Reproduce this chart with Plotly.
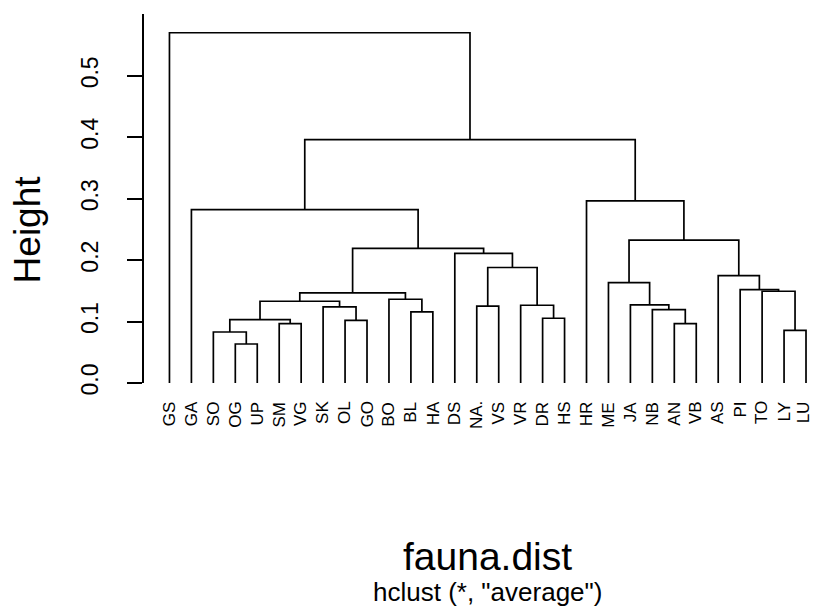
import plotly.graph_objects as go

# Leaf labels in dendrogram order
labels = ["GS", "GA", "SO", "OG", "UP", "SM", "VG", "SK", "OL", "GO", "BO", "BL", "HA",
          "DS", "NA.", "VS", "VR", "DR", "HS", "HR", "ME", "JA", "NB", "AN", "VB",
          "AS", "PI", "TO", "LY", "LU"]

# Merge steps: strings are leaves, integers refer to earlier merge steps
merge_left = ["OG", "SO", "LY", "SM", "AN", "OL", 1, "DR", "BL", "NB",
              "SK", "NA.", "VR", "JA", 6, "BO", 14, "TO", "PI", "ME",
              "AS", 11, "DS", 16, 19, "GA", "HR", 25, "GS"]
merge_right = ["UP", 0, "LU", "VG", "VB", "GO", 3, "HS", "HA", 4,
               5, "VS", 7, 9, 10, 8, 15, 2, 17, 13,
               18, 12, 21, 22, 20, 23, 24, 26, 27]
merge_height = [0.0635, 0.083, 0.0858, 0.0967, 0.0967, 0.102, 0.1032, 0.1054, 0.1157, 0.1195,
                0.1238, 0.125, 0.1265, 0.127, 0.133, 0.1363, 0.1466, 0.1493, 0.1521, 0.1635,
                0.1749, 0.188, 0.211, 0.219, 0.2324, 0.282, 0.2965, 0.396, 0.570]

y_ticks = [0.0, 0.1, 0.2, 0.3, 0.4, 0.5]
y_ticktext = ["0.0", "0.1", "0.2", "0.3", "0.4", "0.5"]

leaf_pos = {lab: i + 1 for i, lab in enumerate(labels)}
node_x, node_y = [], []


def pos(ref):
    if isinstance(ref, str):
        return leaf_pos[ref], 0.0
    return node_x[ref], node_y[ref]


xs, ys = [], []
for l, r, h in zip(merge_left, merge_right, merge_height):
    xl, yl = pos(l)
    xr, yr = pos(r)
    xs += [xl, xl, xr, xr, None]
    ys += [yl, h, h, yr, None]
    node_x.append((xl + xr) / 2)
    node_y.append(h)

FONT = "Liberation Sans, Arial, sans-serif"

fig = go.Figure()
fig.add_trace(go.Scatter(x=xs, y=ys, mode="lines",
                         line=dict(color="black", width=1.7),
                         hoverinfo="skip", showlegend=False))

annotations = [
    dict(text=lab, xref="x", yref="paper", x=leaf_pos[lab], y=-0.047,
         xanchor="center", yanchor="top", showarrow=False, textangle=-90,
         xshift=(-3 if i == len(labels) - 1 else 0),
         borderpad=0, font=dict(family=FONT, size=17, color="black"))
    for i, lab in enumerate(labels)
]
annotations += [
    dict(text="fauna.dist", xref="x", yref="paper", x=15.5, y=-0.470,
         xanchor="center", yanchor="middle", showarrow=False,
         font=dict(family=FONT, size=39, color="black")),
    dict(text='hclust (*, "average")', xref="x", yref="paper", x=15.5, y=-0.5677,
         xanchor="center", yanchor="middle", showarrow=False,
         font=dict(family=FONT, size=26, color="black")),
    dict(text="Height", xref="paper", yref="y", x=-0.1743, y=0.2503,
         xanchor="center", yanchor="middle", showarrow=False, textangle=-90,
         font=dict(family=FONT, size=37, color="black")),
]

fig.update_layout(
    width=814, height=608, autosize=False,
    margin=dict(l=143.8, r=0, t=14, b=225.3, pad=0),
    paper_bgcolor="white", plot_bgcolor="white",
    xaxis=dict(range=[-0.16, 30.364], showticklabels=False, ticks="",
               showline=False, showgrid=False, zeroline=False),
    yaxis=dict(range=[0, 0.6005], tickmode="array", tickvals=y_ticks, ticktext=y_ticktext,
               tickangle=-90, ticks="outside", ticklen=15, tickwidth=1.6, tickcolor="black",
               showline=True, linewidth=1.6, linecolor="black",
               showgrid=False, zeroline=False, ticklabelstandoff=20,
               tickfont=dict(family=FONT, size=23, color="black")),
    annotations=annotations,
)

fig.write_html("out.html")
